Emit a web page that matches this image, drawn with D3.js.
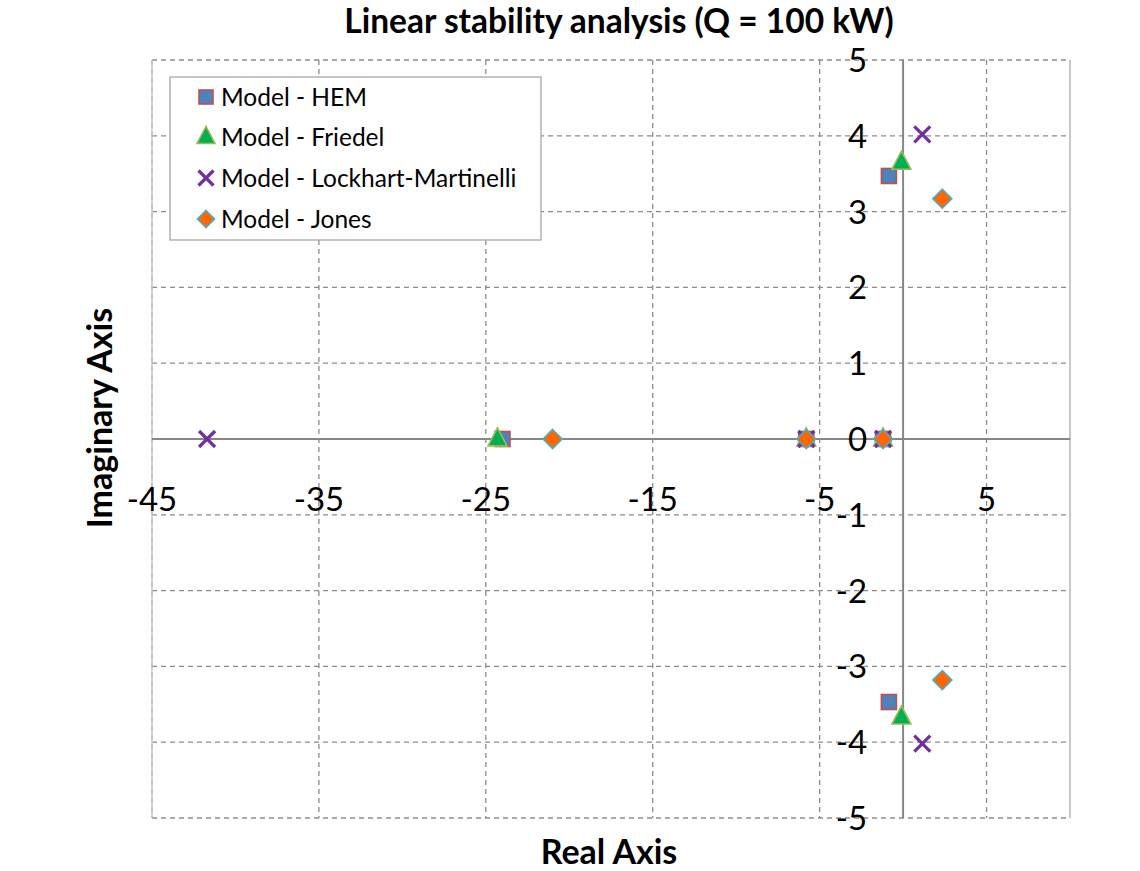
<!DOCTYPE html>
<html><head><meta charset="utf-8">
<script src="https://d3js.org/d3.v7.min.js"></script>
<style>body{margin:0;background:#fff}svg{display:block}text{font-family:Lato,"Open Sans",sans-serif}</style>
</head><body>
<svg id="c" width="1140" height="871"></svg>
<script>
const seriesNames = ["Model - HEM","Model - Friedel","Model - Lockhart-Martinelli","Model - Jones"];
const hemRe = [-24.0, -5.8, -1.2, -0.85, -0.85];
const hemIm = [0, 0, 0, 3.47, -3.47];
const friedelRe = [-24.3, -5.8, -1.2, -0.1, -0.1];
const friedelIm = [0, 0, 0, 3.65, -3.67];
const lockhartRe = [-41.7, -5.8, -1.2, 1.15, 1.15];
const lockhartIm = [0, 0, 0, 4.02, -4.02];
const jonesRe = [-21.0, -5.8, -1.2, 2.35, 2.35];
const jonesIm = [0, 0, 0, 3.17, -3.18];
const xTicks = [-45, -35, -25, -15, -5, 5];
const yTicks = [-5, -4, -3, -2, -1, 0, 1, 2, 3, 4, 5];

const svg = d3.select("#c");
const L = 152, R = 1070, T = 60, B = 818;
const x = d3.scaleLinear().domain([-45, 10]).range([L, R]);
const y = d3.scaleLinear().domain([-5, 5]).range([B, T]);

// gridlines
const g = svg.append("g");
g.selectAll("line.v").data(xTicks).join("line")
  .attr("x1", d => x(d)).attr("x2", d => x(d)).attr("y1", T).attr("y2", B)
  .attr("stroke", "#8c8c8c").attr("stroke-width", 1.3).attr("stroke-dasharray", "5,4");
g.selectAll("line.h").data(yTicks).join("line")
  .attr("x1", L).attr("x2", R).attr("y1", d => y(d)).attr("y2", d => y(d))
  .attr("stroke", "#8c8c8c").attr("stroke-width", 1.3).attr("stroke-dasharray", "5,4");
svg.append("line").attr("x1", R).attr("x2", R).attr("y1", T).attr("y2", B)
  .attr("stroke", "#b5b5b5").attr("stroke-width", 1.5);
svg.append("line").attr("x1", L).attr("x2", L).attr("y1", T).attr("y2", B)
  .attr("stroke", "#c8c8c8").attr("stroke-width", 1.5);

// axes through origin
svg.append("line").attr("x1", L).attr("x2", R).attr("y1", y(0)).attr("y2", y(0))
  .attr("stroke", "#868686").attr("stroke-width", 2);
svg.append("line").attr("x1", x(0)).attr("x2", x(0)).attr("y1", T).attr("y2", B)
  .attr("stroke", "#868686").attr("stroke-width", 2);

// tick labels
svg.append("g").selectAll("text").data(xTicks).join("text")
  .attr("x", d => x(d)).attr("y", y(0) + 72).attr("text-anchor", "middle")
  .attr("font-size", 33).attr("fill", "#000").text(d => d);
svg.append("g").selectAll("text").data(yTicks).join("text")
  .attr("x", x(0) - 36).attr("y", d => y(d) + 12).attr("text-anchor", "end")
  .attr("font-size", 33).attr("fill", "#000").text(d => d);

// title & axis titles
svg.append("text").attr("x", 619).attr("y", 33).attr("text-anchor", "middle")
  .attr("font-size", 33.5).attr("font-weight", "bold").text("Linear stability analysis (Q = 100 kW)");
svg.append("text").attr("x", 609).attr("y", 864).attr("text-anchor", "middle")
  .attr("font-size", 34).attr("font-weight", "bold").text("Real Axis");
svg.append("text").attr("transform", "translate(112,418) rotate(-90)").attr("text-anchor", "middle")
  .attr("font-size", 34).attr("font-weight", "bold").text("Imaginary Axis");

// markers
function drawMarker(sel, type, s) {
  if (type === 0) {
    sel.append("rect").attr("x", -s/2).attr("y", -s/2).attr("width", s).attr("height", s)
      .attr("fill", "#4F81BD").attr("stroke", "#C0504D").attr("stroke-width", 1.6);
  } else if (type === 1) {
    const h = s * 0.95;
    sel.append("path").attr("d", `M0,${-h*0.62}L${s*0.5},${h*0.38}L${-s*0.5},${h*0.38}Z`)
      .attr("fill", "#00B050").attr("stroke", "#9BBB59").attr("stroke-width", 1.6);
  } else if (type === 2) {
    const a = s * 0.5;
    sel.append("path").attr("d", `M${-a},${-a}L${a},${a}M${-a},${a}L${a},${-a}`)
      .attr("stroke", "#7030A0").attr("stroke-width", 3.2).attr("fill", "none");
  } else {
    const a = s * 0.5;
    sel.append("path").attr("d", `M0,${-a}L${a},0L0,${a}L${-a},0Z`)
      .attr("fill", "#FF6600").attr("stroke", "#4BACC6").attr("stroke-width", 1.6);
  }
}
const series = [
  {re: hemRe, im: hemIm, size: 15},
  {re: friedelRe, im: friedelIm, size: 19},
  {re: lockhartRe, im: lockhartIm, size: 16},
  {re: jonesRe, im: jonesIm, size: 19}
];
series.forEach((s, i) => {
  const pts = s.re.map((r, k) => [r, s.im[k]]);
  pts.forEach(p => {
    const m = svg.append("g").attr("transform", `translate(${x(p[0])},${y(p[1])})`);
    drawMarker(m, i, s.size);
  });
});

// legend
const lg = svg.append("g");
lg.append("rect").attr("x", 170).attr("y", 77).attr("width", 371).attr("height", 163)
  .attr("fill", "#fff").attr("stroke", "#a6a6a6").attr("stroke-width", 1.3);
const ly = [97, 137, 178, 219];
seriesNames.forEach((n, i) => {
  const m = lg.append("g").attr("transform", `translate(206,${ly[i]})`);
  drawMarker(m, i, [14, 18, 15, 17][i]);
  lg.append("text").attr("x", 221).attr("y", ly[i] + 9).attr("font-size", 24.5).text(n);
});
</script>
</body></html>
